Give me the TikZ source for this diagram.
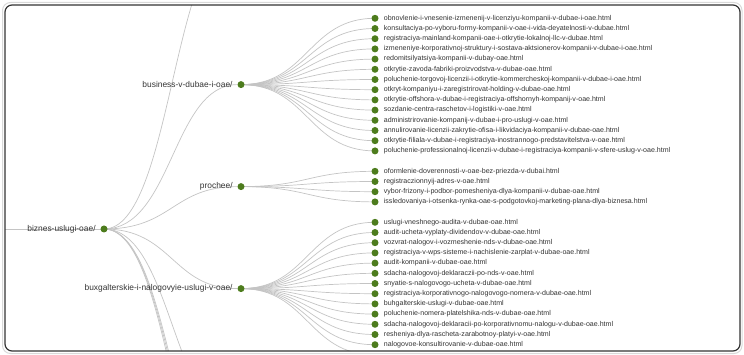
\documentclass[tikz,border=0pt]{standalone}
\usepackage{fontspec}
\setmainfont{Liberation Sans}
\usetikzlibrary{backgrounds}

\definecolor{dotgreen}{HTML}{4D7C1D}
\definecolor{linkgray}{HTML}{C4C4C4}
\definecolor{txtgray}{HTML}{333333}

\tikzset{
  dot/.style={circle, fill=dotgreen, inner sep=0pt, minimum size=7pt},
  txt/.style={font=\fontsize{7.05}{8}\selectfont, text=txtgray, inner sep=1pt, label distance=4pt},
  txtinner/.style={txt, font=\fontsize{8.4}{9}\selectfont, label distance=3.5pt},
  link/.style={draw=linkgray, line width=.7pt},
}
% horizontal tree link from #1 to #2, half step #3
\newcommand{\treelink}[3]{\draw[link] (#1) .. controls +(#3,0) and +(-#3,0) .. (#2);}

\begin{document}
\begin{tikzpicture}[x=1pt, y=-1pt]
  \useasboundingbox (0,0) rectangle (744,355);

  % level 1
  \coordinate (rootin) at (5,229);
  \node[dot, label={[txtinner]left:biznes-uslugi-oae/}] (biz) at (104,229) {};

  % level 2
  \node[dot, label={[txtinner]left:business-v-dubae-i-oae/}] (bus) at (241,84.6) {};
  \node[dot, label={[txtinner]left:prochee/}] (pro) at (241,186.6) {};
  \node[dot, label={[txtinner]left:buxgalterskie-i-nalogovyie-uslugi-v-oae/}] (bux) at (241,288.6) {};
  \coordinate (up1) at (241,-67);
  \coordinate (low1) at (241,422);
  \coordinate (low2) at (241,505);
  \coordinate (low3) at (241,516);
  \coordinate (low4) at (241,528);

  % leaves of business-v-dubae-i-oae/
  \node[dot, label={[txt]right:obnovlenie-i-vnesenie-izmenenij-v-licenziyu-kompanii-v-dubae-i-oae.html}] (b1) at (375,18.3) {};
  \node[dot, label={[txt]right:konsultaciya-po-vyboru-formy-kompanii-v-oae-i-vida-deyatelnosti-v-dubae.html}] (b2) at (375,28.5) {};
  \node[dot, label={[txt]right:registraciya-mainland-kompanii-oae-i-otkrytie-lokalnoj-llc-v-dubae.html}] (b3) at (375,38.7) {};
  \node[dot, label={[txt]right:izmeneniye-korporativnoj-struktury-i-sostava-aktsionerov-kompanii-v-dubae-i-oae.html}] (b4) at (375,48.9) {};
  \node[dot, label={[txt]right:redomitsilyatsiya-kompanii-v-dubay-oae.html}] (b5) at (375,59.1) {};
  \node[dot, label={[txt]right:otkrytie-zavoda-fabriki-proizvodstva-v-dubae-oae.html}] (b6) at (375,69.3) {};
  \node[dot, label={[txt]right:poluchenie-torgovoj-licenzii-i-otkrytie-kommercheskoj-kompanii-v-dubae-i-oae.html}] (b7) at (375,79.5) {};
  \node[dot, label={[txt]right:otkryt-kompaniyu-i-zaregistrirovat-holding-v-dubae-oae.html}] (b8) at (375,89.7) {};
  \node[dot, label={[txt]right:otkrytie-offshora-v-dubae-i-registraciya-offshornyh-kompanij-v-oae.html}] (b9) at (375,99.9) {};
  \node[dot, label={[txt]right:sozdanie-centra-raschetov-i-logistiki-v-oae.html}] (b10) at (375,110.1) {};
  \node[dot, label={[txt]right:administrirovanie-kompanij-v-dubae-i-pro-uslugi-v-oae.html}] (b11) at (375,120.3) {};
  \node[dot, label={[txt]right:annulirovanie-licenzii-zakrytie-ofisa-i-likvidaciya-kompanii-v-dubae-oae.html}] (b12) at (375,130.5) {};
  \node[dot, label={[txt]right:otkrytie-filiala-v-dubae-i-registraciya-inostrannogo-predstavitelstva-v-oae.html}] (b13) at (375,140.7) {};
  \node[dot, label={[txt]right:poluchenie-professionalnoj-licenzii-v-dubae-i-registraciya-kompanii-v-sfere-uslug-v-oae.html}] (b14) at (375,150.9) {};

  % leaves of prochee/
  \node[dot, label={[txt]right:oformlenie-doverennosti-v-oae-bez-priezda-v-dubai.html}] (p1) at (375,171.3) {};
  \node[dot, label={[txt]right:registraczionnyij-adres-v-oae.html}] (p2) at (375,181.5) {};
  \node[dot, label={[txt]right:vybor-frizony-i-podbor-pomesheniya-dlya-kompanii-v-dubae-oae.html}] (p3) at (375,191.7) {};
  \node[dot, label={[txt]right:issledovaniya-i-otsenka-rynka-oae-s-podgotovkoj-marketing-plana-dlya-biznesa.html}] (p4) at (375,201.9) {};

  % leaves of buxgalterskie-i-nalogovyie-uslugi-v-oae/
  \node[dot, label={[txt]right:uslugi-vneshnego-audita-v-dubae-oae.html}] (u1) at (375,222.3) {};
  \node[dot, label={[txt]right:audit-ucheta-vyplaty-dividendov-v-dubae-oae.html}] (u2) at (375,232.5) {};
  \node[dot, label={[txt]right:vozvrat-nalogov-i-vozmeshenie-nds-v-dubae-oae.html}] (u3) at (375,242.7) {};
  \node[dot, label={[txt]right:registraciya-v-wps-sisteme-i-nachislenie-zarplat-v-dubae-oae.html}] (u4) at (375,252.9) {};
  \node[dot, label={[txt]right:audit-kompanii-v-dubae-oae.html}] (u5) at (375,263.1) {};
  \node[dot, label={[txt]right:sdacha-nalogovoj-deklaraczii-po-nds-v-oae.html}] (u6) at (375,273.3) {};
  \node[dot, label={[txt]right:snyatie-s-nalogovogo-ucheta-v-dubae-oae.html}] (u7) at (375,283.5) {};
  \node[dot, label={[txt]right:registraciya-korporativnogo-nalogovogo-nomera-v-dubae-oae.html}] (u8) at (375,293.7) {};
  \node[dot, label={[txt]right:buhgalterskie-uslugi-v-dubae-oae.html}] (u9) at (375,303.9) {};
  \node[dot, label={[txt]right:poluchenie-nomera-platelshika-nds-v-dubae-oae.html}] (u10) at (375,314.1) {};
  \node[dot, label={[txt]right:sdacha-nalogovoj-deklaracii-po-korporativnomu-nalogu-v-dubae-oae.html}] (u11) at (375,324.3) {};
  \node[dot, label={[txt]right:resheniya-dlya-rascheta-zarabotnoy-platyi-v-oae.html}] (u12) at (375,334.5) {};
  \node[dot, label={[txt]right:nalogovoe-konsultirovanie-v-dubae-oae.html}] (u13) at (375,344.7) {};
  \coordinate (u14) at (375,354.9);

  % links, behind the dots and cut at the frame
  \begin{scope}[on background layer]
    \clip[rounded corners=7] (5,5) rectangle (740,351);
    \draw[link] (rootin) -- (biz.center);
    \foreach \c in {up1,bus,pro,bux,low1,low2,low3,low4}
      {\treelink{biz.center}{\c}{68.5}}
    \foreach \i in {1,...,14}
      {\treelink{bus.center}{b\i.center}{67}}
    \foreach \i in {1,...,4}
      {\treelink{pro.center}{p\i.center}{67}}
    \foreach \i in {1,...,13}
      {\treelink{bux.center}{u\i.center}{67}}
    \treelink{bux.center}{u14}{67}
  \end{scope}

  % frame
  \draw[black!15, line width=1pt, rounded corners=8] (2.5,2.5) rectangle (742,353.5);
  \draw[black!80, line width=1.2pt, rounded corners=7] (5,5) rectangle (740,351);
\end{tikzpicture}
\end{document}
